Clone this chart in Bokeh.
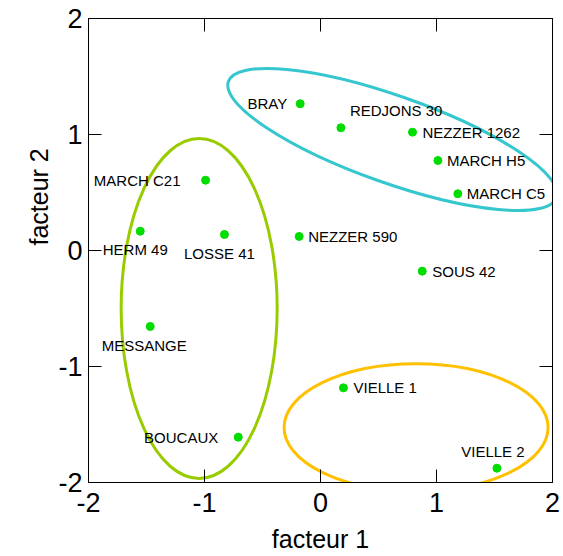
from bokeh.plotting import figure
from bokeh.models import (LinearAxis, Title, FixedTicker, ColumnDataSource,
                          PrintfTickFormatter)
from bokeh.core.properties import value
from bokeh.embed import file_html
from bokeh.resources import INLINE

# Site scores on the first two factors
sites = ["BRAY", "REDJONS 30", "NEZZER 1262", "MARCH H5", "MARCH C5",
         "MARCH C21", "HERM 49", "LOSSE 41", "NEZZER 590", "SOUS 42",
         "MESSANGE", "VIELLE 1", "BOUCAUX", "VIELLE 2"]
facteur1 = [-0.175, 0.176, 0.793, 1.012, 1.184,
            -0.991, -1.554, -0.828, -0.184, 0.877,
            -1.468, 0.198, -0.709, 1.521]
facteur2 = [1.265, 1.058, 1.020, 0.776, 0.489,
            0.606, 0.166, 0.138, 0.121, -0.178,
            -0.655, -1.184, -1.609, -1.877]

# Group ellipses (centre, full width/height in factor units, rotation in radians)
group_cx = [0.62, -1.046, 0.824]
group_cy = [0.957, -0.50, -1.526]
group_w = [3.00, 1.345, 2.276]
group_h = [0.75, 2.93, 1.10]
group_angle = [-0.34, 0.0, 0.0]
group_color = ["#35c6ce", "#99cc00", "#ffc000"]

tick_values = [-2, -1, 0, 1, 2]

# label placement around each point: (align, dx px, dy px)
label_place = {
    "BRAY": ("right", -13, 0),
    "REDJONS 30": ("left", 9, -17),
    "NEZZER 1262": ("left", 10, 0),
    "MARCH H5": ("left", 9, 0),
    "MARCH C5": ("left", 9, 0),
    "MARCH C21": ("right", -25, 0),
    "HERM 49": ("center", -5, 18),
    "LOSSE 41": ("center", -5, 19),
    "NEZZER 590": ("left", 9, 0),
    "SOUS 42": ("left", 10, 0),
    "MESSANGE": ("center", -6, 19),
    "VIELLE 1": ("left", 10, 0),
    "BOUCAUX": ("right", -20, 0),
    "VIELLE 2": ("center", -4, -17),
}

FONT = "Liberation Sans"

p = figure(width=563, height=556, x_range=(-2, 2), y_range=(-2, 2),
           output_backend="svg", toolbar_location=None,
           min_border_left=88, min_border_right=11,
           min_border_top=18, min_border_bottom=74)
p.background_fill_color = "white"
p.border_fill_color = "white"
p.outline_line_color = "black"
p.outline_line_width = 1
p.xgrid.visible = False
p.ygrid.visible = False

ticker = FixedTicker(ticks=tick_values)
fmt = PrintfTickFormatter(format="%d")

for ax in (p.xaxis[0], p.yaxis[0]):
    ax.ticker = ticker
    ax.formatter = fmt
    ax.major_tick_in = 13
    ax.major_tick_out = 0
    ax.minor_tick_in = 0
    ax.minor_tick_out = 0
    ax.axis_line_color = "black"
    ax.major_tick_line_color = "black"
    ax.major_label_text_font = FONT
    ax.major_label_text_font_size = "27px"
    ax.major_label_text_color = "black"

p.xaxis[0].major_label_standoff = 10
p.yaxis[0].major_label_standoff = 6
p.xaxis[0].axis_label = "facteur 1"
p.xaxis[0].axis_label_text_font = FONT
p.xaxis[0].axis_label_text_font_size = "25px"
p.xaxis[0].axis_label_text_font_style = "normal"
p.xaxis[0].axis_label_text_color = "black"
p.xaxis[0].axis_label_standoff = 10

# mirrored tick marks on top and right, without labels
for side in ("above", "right"):
    ax = LinearAxis(ticker=ticker, major_tick_in=13, major_tick_out=0,
                    minor_tick_in=0, minor_tick_out=0,
                    major_label_overrides={t: "" for t in tick_values},
                    major_label_standoff=0,
                    axis_line_color="black", major_tick_line_color="black")
    p.add_layout(ax, side)

# vertical axis title, set towards the upper half of the axis
p.add_layout(Title(text="facteur 2", align="left", offset=237,
                   text_font=FONT, text_font_size="25px",
                   text_font_style="normal", text_color="black",
                   standoff=6), "left")

# group ellipses
p.ellipse(x=group_cx, y=group_cy, width=group_w, height=group_h,
          angle=group_angle, fill_alpha=0, line_color=group_color,
          line_width=3)

# points
p.scatter(facteur1, facteur2, size=8, color="#00dd00", line_color="#00dd00")

src = ColumnDataSource(dict(
    x=facteur1, y=facteur2, t=sites,
    align=[label_place[s][0] for s in sites],
    dx=[label_place[s][1] for s in sites],
    dy=[label_place[s][2] for s in sites],
))
p.text(x="x", y="y", text="t", source=src, x_offset="dx", y_offset="dy",
       text_align="align", text_baseline="middle",
       text_font=value(FONT), text_font_size="15px", text_color="black")

open("out.html", "w").write(file_html(p, INLINE))
